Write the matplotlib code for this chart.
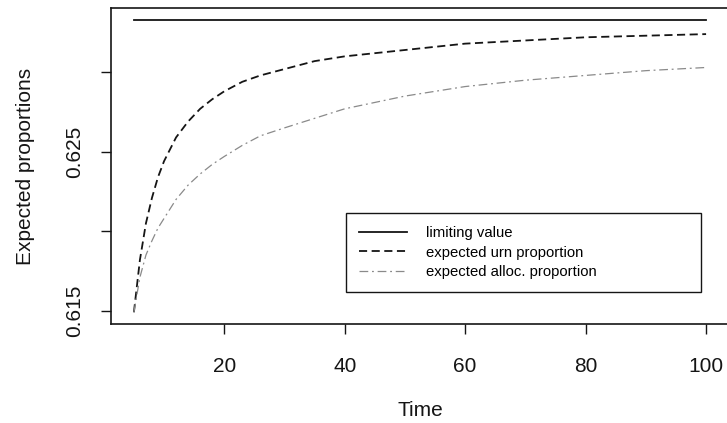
import matplotlib
matplotlib.use("Agg")
import matplotlib.pyplot as plt

# values
time = [5, 6, 7, 8, 9, 10, 12, 14, 16, 18, 20, 23, 26, 30, 35, 40, 45, 50, 60, 70, 80, 90, 100]
urn_prop = [0.6149, 0.6182, 0.6205, 0.6221, 0.6234, 0.6244, 0.6259, 0.6269, 0.6277, 0.6283,
            0.6288, 0.6294, 0.6298, 0.6302, 0.6307, 0.6310, 0.6312, 0.6314, 0.6318, 0.6320,
            0.6322, 0.6323, 0.6324]
alloc_prop = [0.6149, 0.6171, 0.6185, 0.6194, 0.6202, 0.6208, 0.6220, 0.6229, 0.6236, 0.6242,
              0.6247, 0.6254, 0.6260, 0.6265, 0.6271, 0.6277, 0.6281, 0.6285, 0.6291, 0.6295,
              0.6298, 0.6301, 0.6303]
limit_time = [5, 100]
limit_value = [0.6333, 0.6333]

x_ticks = [20, 40, 60, 80, 100]
y_ticks = [0.615, 0.620, 0.625, 0.630]
y_labels = ['0.615', '', '0.625', '']

plt.rcParams['font.family'] = ['Liberation Sans', 'DejaVu Sans']
ink = '#151515'

fig = plt.figure(figsize=(7.27, 4.23), dpi=100)
ax = fig.add_axes([0.1527, 0.234, 0.85, 0.747])

ax.plot(limit_time, limit_value, color=ink, lw=1.3, label='limiting value')
ax.plot(time, urn_prop, color=ink, lw=1.3, linestyle=(0, (4.5, 2.5)),
        label='expected urn proportion')
ax.plot(time, alloc_prop, color='#8a8a8a', lw=0.9, linestyle=(0, (7, 3, 1.5, 3)),
        label='expected alloc. proportion')

ax.set_xlim(1.2, 103.8)
ax.set_ylim(0.61416, 0.63404)
ax.set_xticks(x_ticks)
ax.set_yticks(y_ticks)
ax.set_yticklabels(y_labels, rotation=90, va='center')
ax.tick_params(direction='out', length=7, width=1, colors=ink, labelsize=15, pad=17)
ax.tick_params(axis='y', pad=12)
for s in ax.spines.values():
    s.set_color(ink)
    s.set_linewidth(1.2)

ax.set_xlabel('Time', fontsize=15, color=ink, labelpad=18)
ax.set_ylabel('Expected proportions', fontsize=15, color=ink, labelpad=22)

leg = ax.legend(loc='upper left', bbox_to_anchor=(0.380, 0.351, 0.575, 0.0), mode='expand',
                fontsize=10.7, frameon=True, fancybox=False, framealpha=1,
                edgecolor=ink, handlelength=3.2, handletextpad=1.3,
                borderpad=0.9, labelspacing=0.35, borderaxespad=0)
leg.get_frame().set_linewidth(1.0)

fig.savefig('out.png', dpi=100)
